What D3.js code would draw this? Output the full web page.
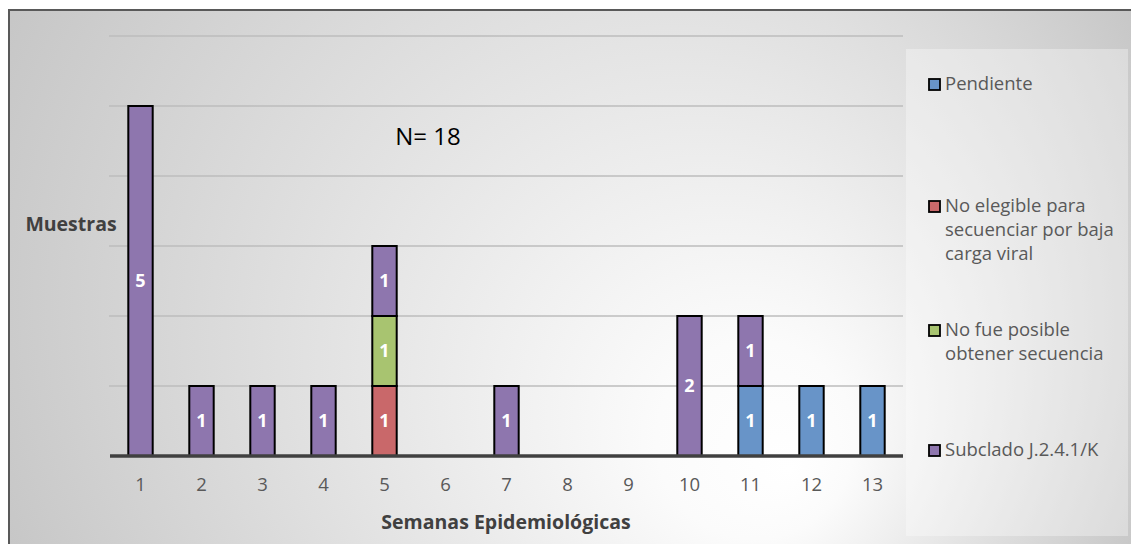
<!DOCTYPE html>
<html>
<head>
<meta charset="utf-8">
<script src="https://cdn.jsdelivr.net/npm/d3@7/dist/d3.min.js"></script>
<style>
  html, body { margin: 0; padding: 0; background: #ffffff; }
  svg { display: block; }
  text { font-family: "Open Sans", "Noto Sans", sans-serif; }
</style>
</head>
<body>
<svg id="chart" width="1131" height="544"></svg>
<script>
// ---- data ----
const weeks = ["1","2","3","4","5","6","7","8","9","10","11","12","13"];
const seriesNames = [
  "Pendiente",
  "No elegible para secuenciar por baja carga viral",
  "No fue posible obtener secuencia",
  "Subclado J.2.4.1/K"
];
const pendiente   = [0,0,0,0,0,0,0,0,0,0,1,1,1];
const noElegible  = [0,0,0,0,1,0,0,0,0,0,0,0,0];
const noFue       = [0,0,0,0,1,0,0,0,0,0,0,0,0];
const subclado    = [5,1,1,1,1,0,1,0,0,2,1,0,0];
const yTicks = [0,1,2,3,4,5,6];
const legendLines = [
  ["Pendiente"],
  ["No elegible para", "secuenciar por baja", "carga viral"],
  ["No fue posible", "obtener secuencia"],
  ["Subclado J.2.4.1/K"]
];
const colors = ["#6894c8", "#c9686a", "#a8c470", "#8e76ae"];

// ---- layout ----
const svg = d3.select("#chart");
const defs = svg.append("defs");
const grad = defs.append("radialGradient")
  .attr("id", "bg")
  .attr("gradientUnits", "userSpaceOnUse")
  .attr("cx", 560).attr("cy", 270).attr("r", 660)
  .attr("fx", 790).attr("fy", 470);
grad.append("stop").attr("offset", "0").attr("stop-color", "#ffffff");
grad.append("stop").attr("offset", "0.15").attr("stop-color", "#fbfbfb");
grad.append("stop").attr("offset", "1").attr("stop-color", "#c3c3c3");

svg.append("rect")
  .attr("x", 9).attr("y", 10).attr("width", 1128).attr("height", 545)
  .attr("fill", "url(#bg)")
  .attr("stroke", "#595959").attr("stroke-width", 2);

// legend panel
svg.append("rect")
  .attr("x", 906).attr("y", 49).attr("width", 222).attr("height", 487)
  .attr("fill", "#ffffff").attr("fill-opacity", 0.33);

const x = d3.scaleBand().domain(weeks).range([110, 903])
  .paddingInner(0.6).paddingOuter(0.3);
const y = d3.scaleLinear().domain([0, 6]).range([456, 36]);

// gridlines
svg.append("g").selectAll("line").data(yTicks.filter(d => d > 0)).join("line")
  .attr("x1", 109).attr("x2", 903)
  .attr("y1", d => y(d)).attr("y2", d => y(d))
  .attr("stroke", "#bdbdbd").attr("stroke-width", 1.5);

// stacked data
const table = weeks.map((w, i) => ({
  week: w, s0: pendiente[i], s1: noElegible[i], s2: noFue[i], s3: subclado[i]
}));
const stack = d3.stack().keys(["s0","s1","s2","s3"]);
const stacked = stack(table);

const gBars = svg.append("g");
stacked.forEach((layer, k) => {
  const segs = layer.filter(d => d[1] - d[0] > 0);
  gBars.append("g").selectAll("rect").data(segs).join("rect")
    .attr("x", d => x(d.data.week))
    .attr("width", x.bandwidth())
    .attr("y", d => y(d[1]))
    .attr("height", d => y(d[0]) - y(d[1]))
    .attr("fill", colors[k])
    .attr("stroke", "#000").attr("stroke-width", 2);
  gBars.append("g").selectAll("text").data(segs).join("text")
    .attr("x", d => x(d.data.week) + x.bandwidth() / 2)
    .attr("y", d => (y(d[0]) + y(d[1])) / 2)
    .attr("dy", "0.36em")
    .attr("text-anchor", "middle")
    .attr("fill", "#ffffff")
    .attr("font-weight", "bold")
    .attr("font-size", "18px")
    .text(d => d[1] - d[0]);
});

// x axis
svg.append("line")
  .attr("x1", 110).attr("x2", 903).attr("y1", y(0)).attr("y2", y(0))
  .attr("stroke", "#404040").attr("stroke-width", 3.5);

const xAxis = svg.append("g").attr("transform", `translate(0,${y(0)})`)
  .call(d3.axisBottom(x).tickSize(0).tickPadding(22));
xAxis.select(".domain").remove();
xAxis.selectAll("text")
  .attr("font-family", "'Open Sans', sans-serif")
  .attr("font-size", "18.5px").attr("fill", "#595959");

// axis titles
svg.append("text").attr("x", 506).attr("y", 522)
  .attr("dy", "0.35em").attr("text-anchor", "middle")
  .attr("font-weight", "bold").attr("font-size", "19.5px").attr("fill", "#404040")
  .text("Semanas Epidemiológicas");
svg.append("text").attr("x", 71).attr("y", 224)
  .attr("dy", "0.35em").attr("text-anchor", "middle")
  .attr("font-weight", "bold").attr("font-size", "19.5px").attr("fill", "#404040")
  .text("Muestras");

// annotation
svg.append("text").attr("x", 428).attr("y", 137)
  .attr("dy", "0.35em").attr("text-anchor", "middle")
  .attr("font-size", "24px").attr("fill", "#000")
  .text("N= 18");

// legend
const legendY = [84, 206, 330, 450];
const gLeg = svg.append("g");
legendLines.forEach((lines, k) => {
  gLeg.append("rect")
    .attr("x", 929).attr("y", legendY[k] - 5).attr("width", 11).attr("height", 11)
    .attr("fill", colors[k]).attr("stroke", "#000").attr("stroke-width", 1.8);
  const t = gLeg.append("text")
    .attr("x", 945).attr("y", legendY[k])
    .attr("font-size", "18.5px").attr("fill", "#595959");
  lines.forEach((ln, j) => {
    t.append("tspan").attr("x", 945).attr("y", legendY[k] + j * 24)
      .attr("dy", "0.35em").text(ln);
  });
});
</script>
</body>
</html>
